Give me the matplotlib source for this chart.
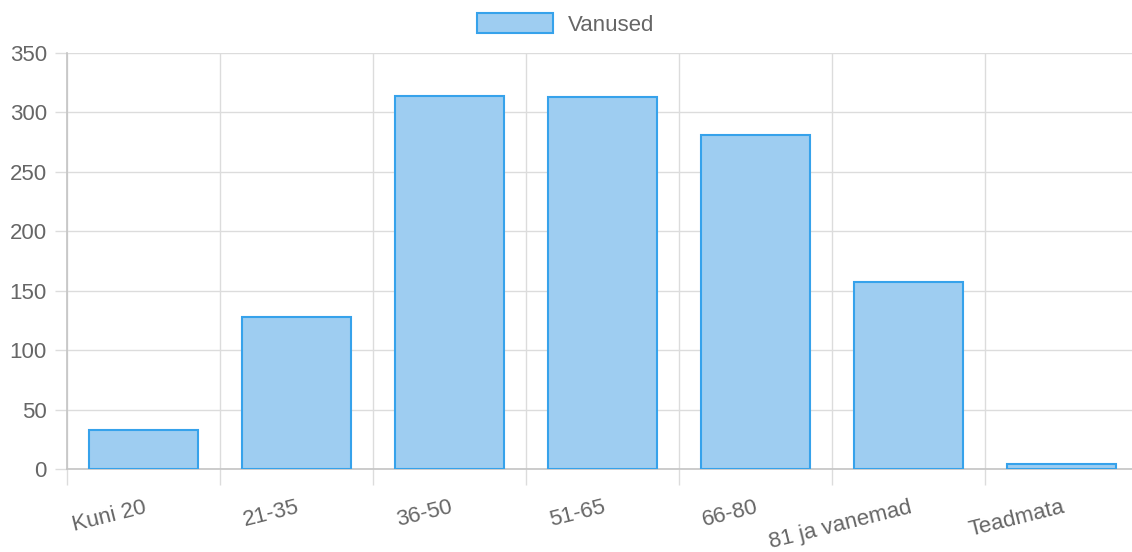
import matplotlib.pyplot as plt
import numpy as np

# Data
categories = ['Kuni 20', '21-35', '36-50', '51-65', '66-80', '81 ja vanemad', 'Teadmata']
values = [33, 128, 314, 313, 281, 157, 4]
series_name = 'Vanused'
y_ticks = [0, 50, 100, 150, 200, 250, 300, 350]

plt.rcParams['font.family'] = ['Liberation Sans', 'DejaVu Sans']

fill = '#9ecdf1'
edge = '#36a2eb'
grid_c = '#dcdcdc'
text_c = '#666666'

fig = plt.figure(figsize=(11.32, 5.52), dpi=100)
ax = fig.add_axes([67 / 1132, 1 - 469 / 552, (1138 - 67) / 1132, (469 - 53) / 552])

x = np.arange(len(categories))
ax.bar(x, values, width=0.71, color=fill, edgecolor=edge, linewidth=1.5,
       label=series_name, zorder=3)

ax.set_xlim(-0.5, len(categories) - 0.5)
ax.set_ylim(0, 350)
ax.set_yticks(y_ticks)
ax.set_xticks(x)
ax.set_xticklabels(categories, rotation=14, ha='right', rotation_mode='anchor')
ax.set_xticks(np.arange(-0.5, len(categories), 1), minor=True)

ax.tick_params(axis='y', length=8.5, width=1, color=grid_c, pad=6,
               labelsize=16, labelcolor=text_c)
ax.tick_params(axis='x', which='major', length=0, pad=20,
               labelsize=16, labelcolor=text_c)
ax.tick_params(axis='x', which='minor', length=11.5, width=1, color=grid_c)

ax.grid(axis='y', which='major', color=grid_c, linewidth=1, zorder=0)
ax.grid(axis='x', which='minor', color=grid_c, linewidth=1, zorder=0)

for s in ['top', 'right']:
    ax.spines[s].set_visible(False)
for s in ['left', 'bottom']:
    ax.spines[s].set_color('#c4c4c4')
    ax.spines[s].set_linewidth(1.2)

leg = fig.legend(loc='upper center', bbox_to_anchor=(0.5, 1.0), ncol=1, frameon=False,
                 fontsize=16, handlelength=3.4, handleheight=1.0, handletextpad=0.7,
                 borderaxespad=0.2)
for t in leg.get_texts():
    t.set_color(text_c)

fig.savefig('out.png', dpi=100)
